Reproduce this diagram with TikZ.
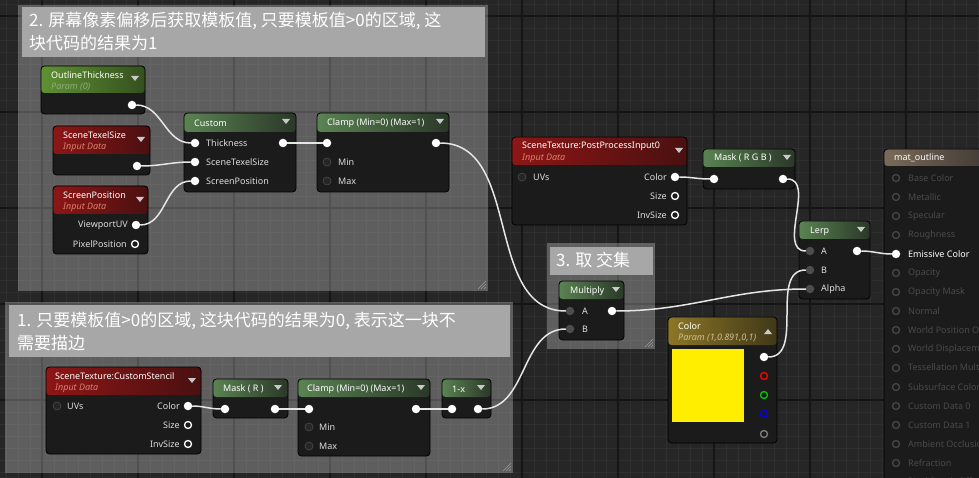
\documentclass[tikz,border=0pt]{standalone}
\usepackage{fontspec}
\setmainfont{Noto Sans}
\newfontfamily\cjk{Noto Sans CJK SC}
\definecolor{bgcol}{HTML}{262626}
\definecolor{gridmin}{HTML}{2F2F2F}
\definecolor{gridmaj}{HTML}{151515}
\definecolor{cmttitle}{HTML}{A7A7A7}
\definecolor{nodebody}{HTML}{1B1B1B}
\definecolor{paramL}{HTML}{5F9133}
\definecolor{paramR}{HTML}{34501F}
\definecolor{mathL}{HTML}{5A8352}
\definecolor{mathR}{HTML}{2A3828}
\definecolor{inputL}{HTML}{8E1616}
\definecolor{inputR}{HTML}{4A1010}
\definecolor{goldL}{HTML}{8C7626}
\definecolor{goldR}{HTML}{403818}
\definecolor{resultL}{HTML}{7A6A58}
\definecolor{resultR}{HTML}{383230}
\definecolor{subparam}{HTML}{92AC7C}
\definecolor{subinput}{HTML}{D8806E}
\definecolor{subgold}{HTML}{CDBE92}
\definecolor{lbltext}{HTML}{DDDDDD}
\definecolor{dimtext}{HTML}{4A4A4A}
\definecolor{dropcol}{HTML}{C8C8C8}
\definecolor{wirecol}{HTML}{E6E6E6}
\definecolor{pingrey}{HTML}{4D4D4D}
\definecolor{swatch}{HTML}{FFEE00}

\begin{document}
\begin{tikzpicture}[x=1pt, y=-1pt,
  gridminor/.style={draw=gridmin, line width=0.8pt},
  gridmajor/.style={draw=gridmaj, line width=1.4pt},
  cmtbody/.style={fill=white, fill opacity=0.26},
  cmthead/.style={fill=cmttitle},
  cmttext/.style={anchor=north west, align=left, inner sep=0, text=white, font=\cjk\fontsize{17}{23}\selectfont},
  grip/.style={draw=gray!80, line width=0.6pt},
  hdrparam/.style={left color=paramL, right color=paramR},
  hdrmath/.style={left color=mathL, right color=mathR},
  hdrinput/.style={left color=inputL, right color=inputR},
  hdrgold/.style={left color=goldL, right color=goldR},
  hdrresult/.style={left color=resultL, right color=resultR},
  ueblock/.style 2 args={draw=black, line width=0.8pt, fill=nodebody, rounded corners=3.5pt,
    anchor=north west, inner sep=0, outer sep=0,
    path picture={\shade[#1] (path picture bounding box.north west) rectangle ([yshift=-#2]path picture bounding box.north east);}},
  hdrtxt/.style={anchor=west, inner sep=0, text=white, font=\bfseries\fontsize{9}{10}\selectfont},
  subtxt/.style={anchor=west, inner sep=0, font=\itshape\fontsize{9}{10}\selectfont},
  pinlbl/.style={inner sep=0, text=lbltext, font=\fontsize{9}{10}\selectfont},
  pinon/.style={circle, fill=white, minimum size=8.5pt, inner sep=0, outer sep=0},
  pinring/.style={circle, draw=#1, line width=1.3pt, fill=nodebody, minimum size=7pt, inner sep=0, outer sep=0},
  pinoff/.style={circle, fill=black!85, draw=black!70, line width=0.6pt, minimum size=8pt, inner sep=0},
  pindim/.style={circle, fill=pingrey, minimum size=8.5pt, inner sep=0, outer sep=0},
  wire/.style={draw=wirecol, line width=1.5pt}]

\useasboundingbox (0,0) rectangle (979,478);
\clip (0,0) rectangle (979,478);
\fill[bgcol] (0,0) rectangle (979,478);
\foreach \x in {6,18,...,978} \draw[gridminor] (\x,0) -- (\x,478);
\foreach \y in {4,16,...,476} \draw[gridminor] (0,\y) -- (979,\y);
\foreach \x in {42,138,...,906} \draw[gridmajor] (\x,0) -- (\x,478);
\foreach \y in {16,112,...,400} \draw[gridmajor] (0,\y) -- (979,\y);

\fill[cmtbody] (18,5) rectangle (488,291);
\fill[cmthead] (22,7) rectangle (485,57);
\node[cmttext] (cmt2) at (29,12) {2. 屏幕像素偏移后获取模板值, 只要模板值>0的区域, 这\\块代码的结果为1};
\foreach \d in {2,5,8} \draw[grip] (486-\d,289) -- (486,289-\d);

\fill[cmtbody] (5,302) rectangle (513,473);
\fill[cmthead] (9,305) rectangle (510,357);
\node[cmttext] (cmt1) at (17,312) {1. 只要模板值>0的区域, 这块代码的结果为0, 表示这一块不\\需要描边};
\foreach \d in {2,5,8} \draw[grip] (511-\d,471) -- (511,471-\d);

\fill[cmtbody] (547,243) rectangle (655,349);
\fill[cmthead] (550,247) rectangle (653,275);
\node[cmttext] (cmt3) at (556,252) {3. 取 交集};
\foreach \d in {2,5,8} \draw[grip] (653-\d,347) -- (653,347-\d);

\node[ueblock={hdrparam}{27pt}, minimum width=104pt, minimum height=48pt] (othick) at (41,66) {};
\node[hdrtxt] (othick-t) at (51,75) {OutlineThickness};
\node[subtxt, text=subparam] (othick-s) at (51,87) {Param (0)};
\fill[dropcol] (131,76) -- (139,76) -- (135,81) -- cycle;
\node[pinon] (othick-out) at (132,105) {};

\node[ueblock={hdrinput}{28pt}, minimum width=97pt, minimum height=49pt] (texel) at (53,126) {};
\node[hdrtxt] (texel-t) at (63,135) {SceneTexelSize};
\node[subtxt, text=subinput] (texel-s) at (63,147) {Input Data};
\fill[dropcol] (137,137) -- (145,137) -- (141,142) -- cycle;
\node[pinon] (texel-out) at (137,166) {};

\node[ueblock={hdrinput}{28pt}, minimum width=95pt, minimum height=68pt] (scrpos) at (53,186) {};
\node[hdrtxt] (scrpos-t) at (63,195) {ScreenPosition};
\node[subtxt, text=subinput] (scrpos-s) at (63,207) {Input Data};
\fill[dropcol] (136,197) -- (144,197) -- (140,202) -- cycle;
\node[pinon] (scrpos-uv) at (136,225) {};
\node[pinlbl, anchor=east] (scrpos-uvl) at (128,225) {ViewportUV};
\node[pinring=white] (scrpos-px) at (135,244) {};
\node[pinlbl, anchor=east] (scrpos-pxl) at (127,244) {PixelPosition};

\node[ueblock={hdrmath}{19pt}, minimum width=112pt, minimum height=79pt] (custom) at (184,113) {};
\node[hdrtxt] (custom-t) at (194,123) {Custom};
\fill[dropcol] (282,119) -- (290,119) -- (286,124) -- cycle;
\node[pinon] (custom-th) at (195,143) {};
\node[pinlbl, anchor=west] (custom-thl) at (206,143) {Thickness};
\node[pinon] (custom-ts) at (195,162) {};
\node[pinlbl, anchor=west] (custom-tsl) at (206,162) {SceneTexelSize};
\node[pinon] (custom-sp) at (195,181) {};
\node[pinlbl, anchor=west] (custom-spl) at (206,181) {ScreenPosition};
\node[pinon] (custom-out) at (283,143) {};

\node[ueblock={hdrmath}{19pt}, minimum width=132pt, minimum height=79pt] (clampa) at (317,113) {};
\node[hdrtxt] (clampa-t) at (327,123) {Clamp (Min=0) (Max=1)};
\fill[dropcol] (436,119) -- (444,119) -- (440,124) -- cycle;
\node[pinon] (clampa-in) at (327,143) {};
\node[pinoff] (clampa-min) at (327,162) {};
\node[pinlbl, anchor=west] (clampa-minl) at (338,162) {Min};
\node[pinoff] (clampa-max) at (327,181) {};
\node[pinlbl, anchor=west] (clampa-maxl) at (338,181) {Max};
\node[pinon] (clampa-out) at (436,143) {};

\node[ueblock={hdrinput}{28pt}, minimum width=175pt, minimum height=88pt] (ppi) at (512,137) {};
\node[hdrtxt] (ppi-t) at (522,146) {SceneTexture:PostProcessInput0};
\node[subtxt, text=subinput] (ppi-s) at (522,158) {Input Data};
\fill[dropcol] (675,148) -- (683,148) -- (679,153) -- cycle;
\node[pinoff] (ppi-uv) at (522,177) {};
\node[pinlbl, anchor=west] (ppi-uvl) at (533,177) {UVs};
\node[pinon] (ppi-col) at (675,177) {};
\node[pinlbl, anchor=east] (ppi-coll) at (667,177) {Color};
\node[pinring=white] (ppi-size) at (675,196) {};
\node[pinlbl, anchor=east] (ppi-sizel) at (667,196) {Size};
\node[pinring=white] (ppi-inv) at (675,215) {};
\node[pinlbl, anchor=east] (ppi-invl) at (667,215) {InvSize};

\node[ueblock={hdrmath}{18pt}, minimum width=92pt, minimum height=40pt] (maskrgb) at (703,149) {};
\node[hdrtxt] (maskrgb-t) at (714,158) {Mask ( R G B )};
\fill[dropcol] (783,155) -- (791,155) -- (787,160) -- cycle;
\node[pinon] (maskrgb-in) at (714,179) {};
\node[pinon] (maskrgb-out) at (783,179) {};

\node[ueblock={hdrmath}{18pt}, minimum width=71pt, minimum height=78pt] (lerp) at (799,221) {};
\node[hdrtxt] (lerp-t) at (810,231) {Lerp};
\fill[dropcol] (857,227) -- (865,227) -- (861,232) -- cycle;
\node[pindim] (lerp-a) at (810,251) {};
\node[pinlbl, anchor=west] (lerp-al) at (821,251) {A};
\node[pindim] (lerp-b) at (810,270) {};
\node[pinlbl, anchor=west] (lerp-bl) at (821,270) {B};
\node[pindim] (lerp-alpha) at (810,289) {};
\node[pinlbl, anchor=west] (lerp-alphal) at (821,289) {Alpha};
\node[pinon] (lerp-out) at (857,251) {};

\node[ueblock={hdrresult}{17pt}, minimum width=120pt, minimum height=340pt] (mat) at (884,149) {};
\node[hdrtxt] (mat-t) at (894,158) {mat\_outline};
\foreach \y/\lbl in {178/Base Color, 197/Metallic, 216/Specular, 235/Roughness, 273/Opacity,
  292/Opacity Mask, 311/Normal, 330/World Position Offset, 349/World Displacement,
  368/Tessellation Multiplier, 387/Subsurface Color, 406/Custom Data 0, 425/Custom Data 1,
  444/Ambient Occlusion, 463/Refraction, 482/Pixel Depth Offset} {
  \node[pinring=black!72] (mat-p\y) at (896,\y) {};
  \node[pinlbl, anchor=west, text=dimtext] (mat-l\y) at (908,\y) {\lbl};
}
\node[pinon] (mat-emis) at (896,254) {};
\node[pinlbl, anchor=west, text=white] (mat-emisl) at (908,254) {Emissive Color};

\node[ueblock={hdrmath}{18pt}, minimum width=65pt, minimum height=59pt] (mult) at (559,281) {};
\node[hdrtxt] (mult-t) at (570,291) {Multiply};
\fill[dropcol] (612,287) -- (620,287) -- (616,292) -- cycle;
\node[pindim] (mult-a) at (570,311) {};
\node[pinlbl, anchor=west] (mult-al) at (582,311) {A};
\node[pindim] (mult-b) at (570,329) {};
\node[pinlbl, anchor=west] (mult-bl) at (582,329) {B};
\node[pinon] (mult-out) at (612,311) {};

\node[ueblock={hdrgold}{28pt}, minimum width=109pt, minimum height=126pt] (colparam) at (668,317) {};
\node[hdrtxt] (colparam-t) at (678,326) {Color};
\node[subtxt, text=subgold] (colparam-s) at (678,338) {Param (1,0.891,0,1)};
\fill[dropcol] (764,334) -- (772,334) -- (768,329) -- cycle;
\fill[swatch] (672,349) rectangle (744,422);
\node[pinon] (colparam-rgb) at (764,357) {};
\node[pinring=red] (colparam-r) at (764,376) {};
\node[pinring=green!80!black] (colparam-g) at (764,395) {};
\node[pinring=blue] (colparam-bb) at (764,414) {};
\node[pinring=gray] (colparam-al) at (764,434) {};

\node[ueblock={hdrinput}{28pt}, minimum width=155pt, minimum height=87pt] (stencil) at (46,367) {};
\node[hdrtxt] (stencil-t) at (55,376) {SceneTexture:CustomStencil};
\node[subtxt, text=subinput] (stencil-s) at (55,388) {Input Data};
\fill[dropcol] (188,378) -- (196,378) -- (192,383) -- cycle;
\node[pinoff] (stencil-uv) at (57,406) {};
\node[pinlbl, anchor=west] (stencil-uvl) at (67,406) {UVs};
\node[pinon] (stencil-col) at (188,406) {};
\node[pinlbl, anchor=east] (stencil-coll) at (180,406) {Color};
\node[pinring=white] (stencil-size) at (188,425) {};
\node[pinlbl, anchor=east] (stencil-sizel) at (180,425) {Size};
\node[pinring=white] (stencil-inv) at (188,444) {};
\node[pinlbl, anchor=east] (stencil-invl) at (180,444) {InvSize};

\node[ueblock={hdrmath}{18pt}, minimum width=75pt, minimum height=39pt] (maskr) at (213,379) {};
\node[hdrtxt] (maskr-t) at (223,389) {Mask ( R )};
\fill[dropcol] (274,385) -- (282,385) -- (278,390) -- cycle;
\node[pinon] (maskr-in) at (225,409) {};
\node[pinon] (maskr-out) at (275,409) {};

\node[ueblock={hdrmath}{18pt}, minimum width=132pt, minimum height=77pt] (clampb) at (298,379) {};
\node[hdrtxt] (clampb-t) at (307,389) {Clamp (Min=0) (Max=1)};
\fill[dropcol] (417,385) -- (425,385) -- (421,390) -- cycle;
\node[pinon] (clampb-in) at (309,409) {};
\node[pinoff] (clampb-min) at (309,427) {};
\node[pinlbl, anchor=west] (clampb-minl) at (319,427) {Min};
\node[pinoff] (clampb-max) at (309,446) {};
\node[pinlbl, anchor=west] (clampb-maxl) at (319,446) {Max};
\node[pinon] (clampb-out) at (416,409) {};

\node[ueblock={hdrmath}{18pt}, minimum width=49pt, minimum height=39pt] (oneminus) at (442,379) {};
\node[hdrtxt] (oneminus-t) at (452,389) {1-x};
\fill[dropcol] (477,385) -- (485,385) -- (481,390) -- cycle;
\node[pinon] (oneminus-in) at (452,409) {};
\node[pinon] (oneminus-out) at (478,409) {};

\draw[wire] (othick-out) to[out=0,in=180] (custom-th);
\draw[wire] (texel-out) to[out=0,in=180] (custom-ts);
\draw[wire] (scrpos-uv) to[out=0,in=180] (custom-sp);
\draw[wire] (custom-out) to[out=0,in=180] (clampa-in);
\draw[wire] (clampa-out) to[out=0,in=180] (mult-a);
\draw[wire] (stencil-col) to[out=0,in=180] (maskr-in);
\draw[wire] (maskr-out) to[out=0,in=180] (clampb-in);
\draw[wire] (clampb-out) to[out=0,in=180] (oneminus-in);
\draw[wire] (oneminus-out) to[out=0,in=180] (mult-b);
\draw[wire] (ppi-col) to[out=0,in=180] (maskrgb-in);
\draw[wire] (maskrgb-out) to[out=0,in=180] (lerp-a);
\draw[wire] (colparam-rgb) to[out=0,in=180] (lerp-b);
\draw[wire] (mult-out) to[out=0,in=180] (lerp-alpha);
\draw[wire] (lerp-out) to[out=0,in=180] (mat-emis);
\end{tikzpicture}
\end{document}
